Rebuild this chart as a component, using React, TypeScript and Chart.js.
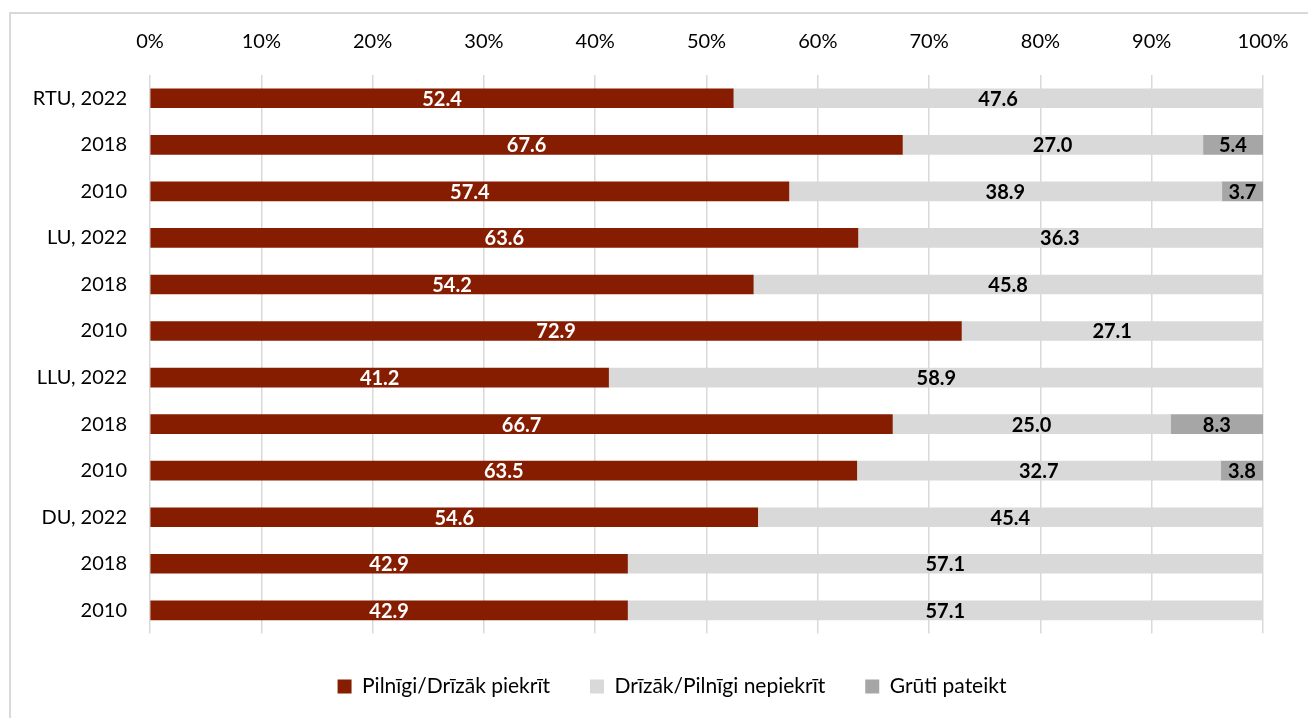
import React, { useEffect, useRef } from "react";
import { Chart, registerables } from "chart.js";

Chart.register(...registerables);

const categories = [
  "RTU, 2022", "2018", "2010",
  "LU, 2022", "2018", "2010",
  "LLU, 2022", "2018", "2010",
  "DU, 2022", "2018", "2010",
];
const agree = [52.4, 67.6, 57.4, 63.6, 54.2, 72.9, 41.2, 66.7, 63.5, 54.6, 42.9, 42.9];
const disagree = [47.6, 27.0, 38.9, 36.3, 45.8, 27.1, 58.9, 25.0, 32.7, 45.4, 57.1, 57.1];
const hardToSay = [0, 5.4, 3.7, 0, 0, 0, 0, 8.3, 3.8, 0, 0, 0];
const seriesNames = ["Pilnīgi/Drīzāk piekrīt", "Drīzāk/Pilnīgi nepiekrīt", "Grūti pateikt"];
const seriesColors = ["#861d01", "#d9d9d9", "#a6a6a6"];
const labelColors = ["#ffffff", "#000000", "#000000"];
const xTicks = [0, 10, 20, 30, 40, 50, 60, 70, 80, 90, 100];

const FONT = "Lato, 'Open Sans', sans-serif";

const valueLabels = {
  id: "valueLabels",
  afterDatasetsDraw(chart: any) {
    const ctx = chart.ctx;
    ctx.save();
    ctx.font = `bold 20px ${FONT}`;
    ctx.textAlign = "center";
    ctx.textBaseline = "middle";
    chart.data.datasets.forEach((ds: any, di: number) => {
      const meta = chart.getDatasetMeta(di);
      meta.data.forEach((el: any, i: number) => {
        const v = ds.data[i];
        if (!v) return;
        const p = el.getProps(["x", "base", "y"], true);
        ctx.fillStyle = labelColors[di];
        ctx.fillText(v.toFixed(1), (p.x + p.base) / 2, p.y + 1);
      });
    });
    ctx.restore();
  },
};

export default function App() {
  const ref = useRef<HTMLCanvasElement>(null);
  useEffect(() => {
    if (!ref.current) return;
    const chart = new Chart(ref.current, {
      type: "bar",
      data: {
        labels: categories,
        datasets: [agree, disagree, hardToSay].map((d, i) => ({
          label: seriesNames[i],
          data: d,
          backgroundColor: seriesColors[i],
          borderWidth: 0,
          barThickness: 19,
        })),
      },
      options: {
        indexAxis: "y",
        animation: false,
        responsive: false,
        maintainAspectRatio: false,
        layout: { padding: { left: 0, right: 0, top: 0, bottom: 33 } },
        scales: {
          x: {
            position: "top",
            stacked: true,
            min: 0,
            max: 100,
            afterBuildTicks: (s: any) => {
              s.ticks = xTicks.map((v) => ({ value: v }));
            },
            afterFit: (s: any) => {
              s.height = 75;
            },
            border: { display: false },
            grid: { color: "#d9d9d9", lineWidth: 1.5, drawTicks: false },
            ticks: {
              padding: 21,
              color: "#000",
              font: { family: FONT, size: 20 },
              callback: (v: any) => v + "%",
            },
          },
          y: {
            stacked: true,
            afterFit: (s: any) => {
              s.width = 140;
            },
            border: { display: false },
            grid: { display: false, drawTicks: false },
            ticks: {
              padding: 23,
              color: "#000",
              font: { family: FONT, size: 20 },
            },
          },
          yRight: {
            type: "category",
            position: "right",
            afterFit: (s: any) => {
              s.width = 71;
            },
            border: { display: false },
            grid: { display: false, drawTicks: false },
            ticks: { display: false },
          },
        },
        plugins: {
          tooltip: { enabled: false },
          legend: {
            position: "bottom",
            title: { display: true, text: "", font: { size: 2 }, padding: 0 },
            labels: {
              boxWidth: 14,
              boxHeight: 14,
              padding: 40,
              color: "#000",
              font: { family: FONT, size: 21 },
            },
          },
        },
      },
      plugins: [valueLabels],
    } as any);
    return () => chart.destroy();
  }, []);

  return (
    <div style={{ position: "fixed", inset: 0, overflow: "hidden", background: "#fff" }}>
      <div
        style={{
          position: "absolute",
          left: 9,
          top: 12,
          width: 1400,
          height: 800,
          border: "2px solid #d9d9d9",
        }}
      />
      <canvas
        ref={ref}
        width={1324}
        height={740}
        style={{ position: "absolute", left: 10, top: 0, width: 1324, height: 740 }}
      />
    </div>
  );
}
